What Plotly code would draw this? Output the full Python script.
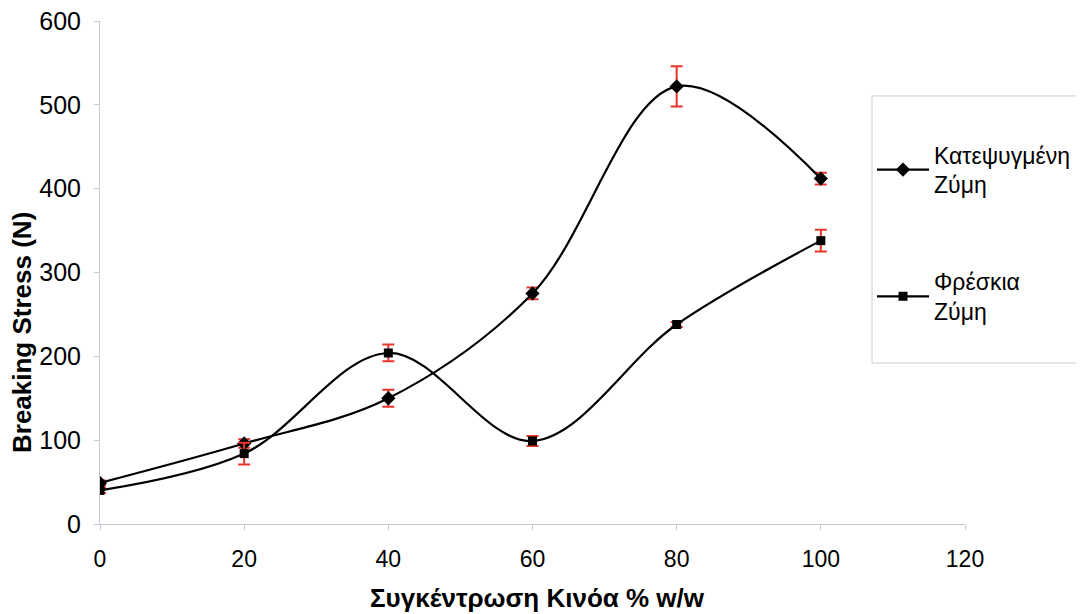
import plotly.graph_objects as go

conc = [0, 20, 40, 60, 80, 100]
frozen_name = "Κατεψυγμένη<br>Ζύμη"
fresh_name = "Φρέσκια<br>Ζύμη"
frozen = [49, 96, 150, 275, 522, 412]
frozen_err = [3, 5, 10, 7, 24, 7]
fresh = [40, 84, 204, 99, 238, 338]
fresh_err = [3, 13, 10, 6, 3, 13]
x_ticks = [0, 20, 40, 60, 80, 100, 120]
y_ticks = [0, 100, 200, 300, 400, 500, 600]
x_title = "<b>Συγκέντρωση Κινόα % w/w</b>"
y_title = "<b>Breaking Stress (N)</b>"

FONT = "Liberation Sans, Arial, sans-serif"
RED = "#e8352a"

fig = go.Figure()
fig.add_trace(go.Scatter(
    x=conc, y=frozen, name=frozen_name, mode="lines+markers",
    line=dict(color="black", width=2.2, shape="spline", smoothing=1),
    marker=dict(symbol="diamond", size=11, color="black"),
    error_y=dict(type="data", array=frozen_err, color=RED, thickness=2, width=6),
    legendgroup="a",
))
fig.add_trace(go.Scatter(
    x=conc, y=fresh, name=fresh_name, mode="lines+markers",
    line=dict(color="black", width=2.2, shape="spline", smoothing=1),
    marker=dict(symbol="square", size=9, color="black"),
    error_y=dict(type="data", array=fresh_err, color=RED, thickness=2, width=6),
    legendgroup="b",
))

fig.update_layout(
    width=1076, height=606,
    margin=dict(l=92, r=119, t=13, b=90, autoexpand=False),
    paper_bgcolor="white", plot_bgcolor="white",
    font=dict(family=FONT, size=22, color="black"),
    showlegend=True,
    legend=dict(
        x=0.8925, y=0.777, xanchor="left", yanchor="top",
        bgcolor="rgba(0,0,0,0)", borderwidth=0,
        traceorder="grouped", tracegroupgap=64, itemwidth=52,
        font=dict(family=FONT, size=23, color="black"),
    ),
    shapes=[dict(type="rect", xref="paper", yref="paper",
                 x0=0.8925, x1=1.1353, y0=0.320, y1=0.851,
                 line=dict(color="#cccccc", width=1), fillcolor="rgba(0,0,0,0)")],
    annotations=[
        dict(text=x_title, xref="paper", yref="paper", x=0.506, y=-0.148,
             xanchor="center", yanchor="middle", showarrow=False,
             font=dict(family=FONT, size=26, color="black")),
        dict(text=y_title, xref="paper", yref="paper", x=-0.090, y=0.380,
             xanchor="center", yanchor="middle", showarrow=False, textangle=-90,
             font=dict(family=FONT, size=26, color="black")),
    ],
)
fig.update_xaxes(
    range=[0, 120], tickvals=x_ticks, showgrid=False, zeroline=False,
    showline=True, linecolor="#c8c8d4", linewidth=1, automargin=False,
    ticks="outside", ticklen=5, tickcolor="#c8c8d4",
    tickfont=dict(size=23), ticklabelstandoff=9, ticklabeloverflow="allow",
)
fig.update_yaxes(
    range=[0, 600], tickvals=y_ticks, showgrid=False, zeroline=False,
    showline=True, linecolor="#c8c8d4", linewidth=1, automargin=False,
    ticks="outside", ticklen=5, tickcolor="#c8c8d4",
    tickfont=dict(size=25), ticklabelstandoff=8, ticklabeloverflow="allow",
)

fig.write_html("out.html")
